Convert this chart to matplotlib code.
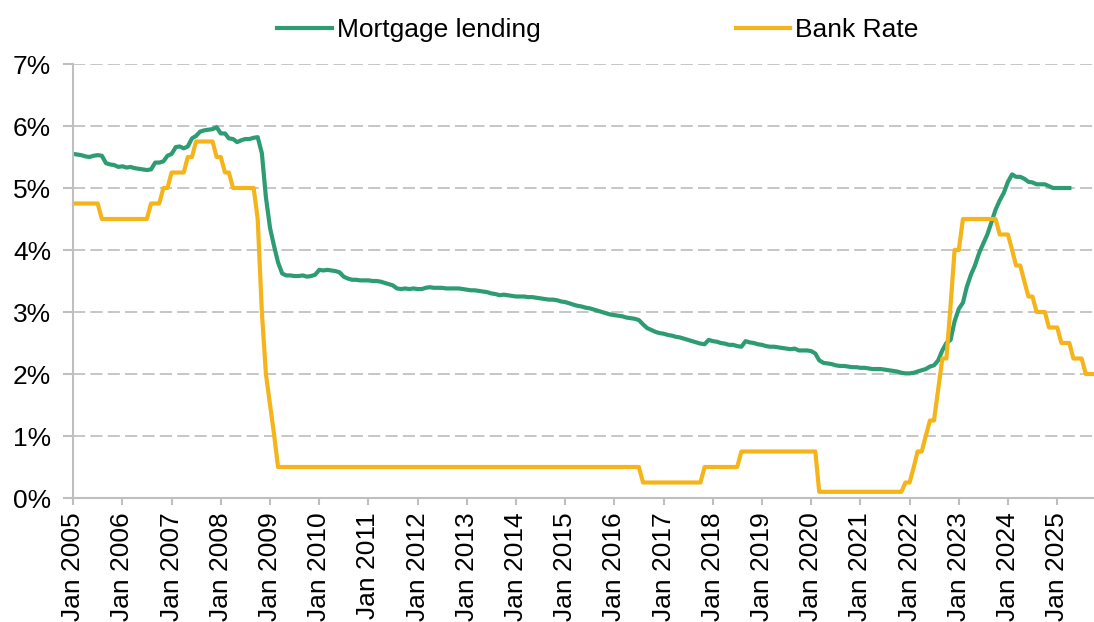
import pandas as pd
import matplotlib
matplotlib.use("Agg")
import matplotlib.pyplot as plt

plt.rcParams['font.family'] = ['Liberation Sans', 'DejaVu Sans']

# monthly values from Jan 2005, in %
mortgage = [
    5.55, 5.54, 5.53, 5.51, 5.50, 5.52, 5.53, 5.52, 5.40, 5.38, 5.37, 5.34,  # 2005
    5.35, 5.33, 5.34, 5.32, 5.31, 5.30, 5.29, 5.30, 5.41, 5.41, 5.43, 5.52,  # 2006
    5.55, 5.66, 5.67, 5.64, 5.67, 5.80, 5.84, 5.91, 5.93, 5.94, 5.95, 5.98,  # 2007
    5.88, 5.88, 5.80, 5.79, 5.74, 5.77, 5.79, 5.79, 5.81, 5.82, 5.56, 4.85,  # 2008
    4.35, 4.05, 3.80, 3.62, 3.59, 3.59, 3.58, 3.58, 3.59, 3.57, 3.58, 3.60,  # 2009
    3.68, 3.67, 3.68, 3.67, 3.66, 3.64, 3.57, 3.54, 3.52, 3.52, 3.51, 3.51,  # 2010
    3.51, 3.50, 3.50, 3.49, 3.47, 3.45, 3.43, 3.38, 3.37, 3.38, 3.37, 3.38,  # 2011
    3.37, 3.37, 3.39, 3.40, 3.39, 3.39, 3.39, 3.38, 3.38, 3.38, 3.38, 3.37,  # 2012
    3.36, 3.35, 3.35, 3.34, 3.33, 3.32, 3.30, 3.29, 3.27, 3.28, 3.27, 3.26,  # 2013
    3.25, 3.25, 3.25, 3.24, 3.24, 3.23, 3.22, 3.21, 3.20, 3.20, 3.19, 3.17,  # 2014
    3.16, 3.14, 3.12, 3.10, 3.09, 3.07, 3.06, 3.04, 3.02, 3.00, 2.98, 2.96,  # 2015
    2.95, 2.94, 2.93, 2.91, 2.90, 2.89, 2.87, 2.80, 2.74, 2.71, 2.68, 2.66,  # 2016
    2.65, 2.63, 2.62, 2.60, 2.59, 2.57, 2.55, 2.53, 2.51, 2.49, 2.48, 2.55,  # 2017
    2.53, 2.52, 2.50, 2.49, 2.47, 2.47, 2.45, 2.44, 2.53, 2.51, 2.50, 2.48,  # 2018
    2.47, 2.45, 2.44, 2.44, 2.43, 2.42, 2.41, 2.40, 2.41, 2.38, 2.38, 2.38,  # 2019
    2.37, 2.33, 2.22, 2.18, 2.17, 2.16, 2.14, 2.13, 2.13, 2.12, 2.11, 2.11,  # 2020
    2.10, 2.10, 2.09, 2.08, 2.08, 2.08, 2.07, 2.06, 2.05, 2.04, 2.02, 2.01,  # 2021
    2.01, 2.02, 2.04, 2.06, 2.08, 2.12, 2.14, 2.22, 2.38, 2.50, 2.55, 2.85,  # 2022
    3.05, 3.15, 3.40, 3.60, 3.75, 3.95, 4.10, 4.25, 4.45, 4.65, 4.80, 4.92,  # 2023
    5.10, 5.22, 5.18, 5.18, 5.15, 5.10, 5.09, 5.06, 5.06, 5.06, 5.03, 5.00,  # 2024
    5.00, 5.00, 5.00, 5.00,                                                  # 2025
]

bank_rate = [
    4.75, 4.75, 4.75, 4.75, 4.75, 4.75, 4.75, 4.50, 4.50, 4.50, 4.50, 4.50,  # 2005
    4.50, 4.50, 4.50, 4.50, 4.50, 4.50, 4.50, 4.75, 4.75, 4.75, 5.00, 5.00,  # 2006
    5.25, 5.25, 5.25, 5.25, 5.50, 5.50, 5.75, 5.75, 5.75, 5.75, 5.75, 5.50,  # 2007
    5.50, 5.25, 5.25, 5.00, 5.00, 5.00, 5.00, 5.00, 5.00, 4.50, 3.00, 2.00,  # 2008
    1.50, 1.00, 0.50, 0.50, 0.50, 0.50, 0.50, 0.50, 0.50, 0.50, 0.50, 0.50,  # 2009
    0.50, 0.50, 0.50, 0.50, 0.50, 0.50, 0.50, 0.50, 0.50, 0.50, 0.50, 0.50,  # 2010
    0.50, 0.50, 0.50, 0.50, 0.50, 0.50, 0.50, 0.50, 0.50, 0.50, 0.50, 0.50,  # 2011
    0.50, 0.50, 0.50, 0.50, 0.50, 0.50, 0.50, 0.50, 0.50, 0.50, 0.50, 0.50,  # 2012
    0.50, 0.50, 0.50, 0.50, 0.50, 0.50, 0.50, 0.50, 0.50, 0.50, 0.50, 0.50,  # 2013
    0.50, 0.50, 0.50, 0.50, 0.50, 0.50, 0.50, 0.50, 0.50, 0.50, 0.50, 0.50,  # 2014
    0.50, 0.50, 0.50, 0.50, 0.50, 0.50, 0.50, 0.50, 0.50, 0.50, 0.50, 0.50,  # 2015
    0.50, 0.50, 0.50, 0.50, 0.50, 0.50, 0.50, 0.25, 0.25, 0.25, 0.25, 0.25,  # 2016
    0.25, 0.25, 0.25, 0.25, 0.25, 0.25, 0.25, 0.25, 0.25, 0.25, 0.50, 0.50,  # 2017
    0.50, 0.50, 0.50, 0.50, 0.50, 0.50, 0.50, 0.75, 0.75, 0.75, 0.75, 0.75,  # 2018
    0.75, 0.75, 0.75, 0.75, 0.75, 0.75, 0.75, 0.75, 0.75, 0.75, 0.75, 0.75,  # 2019
    0.75, 0.75, 0.10, 0.10, 0.10, 0.10, 0.10, 0.10, 0.10, 0.10, 0.10, 0.10,  # 2020
    0.10, 0.10, 0.10, 0.10, 0.10, 0.10, 0.10, 0.10, 0.10, 0.10, 0.10, 0.25,  # 2021
    0.25, 0.50, 0.75, 0.75, 1.00, 1.25, 1.25, 1.75, 2.25, 2.25, 3.10, 4.00,  # 2022
    4.00, 4.50, 4.50, 4.50, 4.50, 4.50, 4.50, 4.50, 4.50, 4.50, 4.25, 4.25,  # 2023
    4.25, 4.00, 3.75, 3.75, 3.50, 3.25, 3.25, 3.00, 3.00, 3.00, 2.75, 2.75,  # 2024
    2.75, 2.50, 2.50, 2.50, 2.25, 2.25, 2.25, 2.00, 2.00, 2.00,              # 2025
]

series_names = ['Mortgage lending', 'Bank Rate']
colors = ['#2E9C72', '#F4B41A']

months_m = pd.date_range('2005-01-01', periods=len(mortgage), freq='MS')
months_b = pd.date_range('2005-01-01', periods=len(bank_rate), freq='MS')
years = pd.date_range('2005-01-01', '2025-01-01', freq='YS')
tick_labels = [f"Jan {d.year}" for d in years]

fs = 19

fig = plt.figure(figsize=(10.94, 6.22), dpi=100)
ax = fig.add_axes([73.3 / 1094, 124 / 622, 1 - 73.3 / 1094, 434 / 622])

l1, = ax.plot(months_m, mortgage, color=colors[0], lw=3.0, label=series_names[0])
l2, = ax.plot(months_b, bank_rate, color=colors[1], lw=3.0, label=series_names[1])

ax.set_xlim(months_b[0], months_b[-1])
ax.set_ylim(0, 7)
ax.set_yticks(range(0, 8))
ax.set_yticklabels([f"{v}%" for v in range(0, 8)])
ax.set_xticks(years)
ax.set_xticklabels(tick_labels, rotation=90)

ax.set_axisbelow(True)
ax.yaxis.grid(True, color='#BFBFBF', linestyle=(0, (7, 3)), lw=1.25)
for s in ['top', 'right']:
    ax.spines[s].set_visible(False)
for s in ['left', 'bottom']:
    ax.spines[s].set_color('#BFBFBF')
    ax.spines[s].set_linewidth(1.5)
ax.tick_params(axis='both', colors='#BFBFBF', labelcolor='black', labelsize=fs, width=1.5)
ax.tick_params(axis='x', length=5, pad=5)
ax.tick_params(axis='y', length=7, pad=9)

fig.legend([l1, l2], series_names, loc='center', bbox_to_anchor=(598 / 1094, 1 - 30 / 622),
           ncol=2, frameon=False, handlelength=2.05, handletextpad=0.2, columnspacing=7.4,
           fontsize=fs)

fig.savefig('out.png', dpi=100)
